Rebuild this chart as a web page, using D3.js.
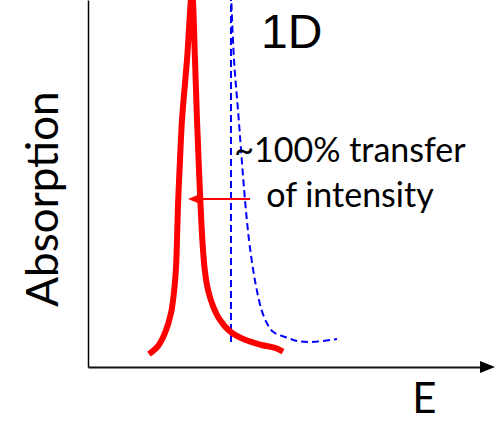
<!DOCTYPE html>
<html lang="en">
<head>
	<meta charset="utf-8">
	<title>1D absorption</title>
	<style>
		body { margin: 0; background: #fff; }
		svg { display: block; }
	</style>
</head>
<body>

<script src="https://cdn.jsdelivr.net/npm/d3@7"></script>
<script>
	// energy (E) and absorption, both on a 0-100 scale
	var redE = [15.25, 17.5, 19.25, 20.75, 21.5, 22, 22.25, 22.5, 23, 23.5, 24.75, 26,
		26.75, 27.25, 27.75, 28.25, 28.75, 29.25, 30, 31.25, 33, 35.5, 39.25, 43.4, 46.75, 48.75];
	var redA = [3.5, 5.7, 9.3, 14.7, 20.4, 27, 34.6, 44.1, 56.4, 67.3, 83.7, 102,
		83.7, 67.3, 53.7, 41.4, 31.9, 25.9, 21, 16.6, 12.8, 9.7, 7.4, 6, 5.2, 4.2];

	var blueE = [35.75, 36.5, 37.5, 39.25, 40.25, 41.3, 42.2, 43.4, 44.7, 46.25, 50, 52.25, 55.5, 62.25];
	var blueA = [102, 83.7, 70, 45.5, 34.6, 26.4, 21, 15.5, 12, 9.6, 7.9, 7.1, 6.8, 7.6];

	var edgeE = [35.75, 35.75];
	var edgeA = [6.8, 102];

	var arrowE = [40.5, 25];
	var arrowA = 45.8;

	var w = 501;
	var h = 424;

	var svg = d3.select("body").append("svg").attr("width", w).attr("height", h);

	var x = d3.scaleLinear().domain([0, 100]).range([88, 488]);
	var y = d3.scaleLinear().domain([0, 100]).range([367, 0]);

	var line = d3.line()
		.x(function(d){ return x(d[0]); })
		.y(function(d){ return y(d[1]); });

	var smooth = d3.line()
		.x(function(d){ return x(d[0]); })
		.y(function(d){ return y(d[1]); })
		.curve(d3.curveCatmullRom.alpha(0.5));

	// axes, no ticks
	svg.append("g")
		.attr("transform", "translate(0," + y(0) + ")")
		.call(d3.axisBottom(x).tickValues([]).tickSizeOuter(0))
		.select(".domain").attr("stroke", "#111").attr("stroke-width", 2);

	svg.append("g")
		.attr("transform", "translate(" + x(0) + ",0)")
		.call(d3.axisLeft(y).tickValues([]).tickSizeOuter(0))
		.select(".domain").attr("stroke", "#000").attr("stroke-width", 1.5);

	// arrow on E axis
	var ax = x(100), ay = y(0);
	svg.append("path")
		.attr("d", "M" + (ax - 8) + "," + (ay - 6) + "L" + (ax + 7) + "," + ay + "L" + (ax - 8) + "," + (ay + 6) + "Z")
		.attr("fill", "#000");

	// blue dashed: vertical edge + tail
	svg.append("path")
		.datum(d3.zip(edgeE, edgeA))
		.attr("d", line)
		.attr("fill", "none")
		.attr("stroke", "#0000ff")
		.attr("stroke-width", 2)
		.attr("stroke-dasharray", "7,4");

	svg.append("path")
		.datum(d3.zip(blueE, blueA))
		.attr("d", smooth)
		.attr("fill", "none")
		.attr("stroke", "#0000ff")
		.attr("stroke-width", 2)
		.attr("stroke-dasharray", "7,4");

	// red peak
	svg.append("path")
		.datum(d3.zip(redE, redA))
		.attr("d", smooth)
		.attr("fill", "none")
		.attr("stroke", "#ff0000")
		.attr("stroke-width", 6)
		.attr("stroke-linejoin", "round");

	// red arrow
	var ay2 = y(arrowA);
	svg.append("line")
		.attr("x1", x(arrowE[0])).attr("y1", ay2)
		.attr("x2", x(arrowE[1]) + 8).attr("y2", ay2)
		.attr("stroke", "#ff0000")
		.attr("stroke-width", 2);
	var tx = x(arrowE[1]);
	svg.append("path")
		.attr("d", "M" + tx + "," + ay2 + "L" + (tx + 11) + "," + (ay2 - 4.5) + "L" + (tx + 9) + "," + ay2 + "L" + (tx + 11) + "," + (ay2 + 4.5) + "Z")
		.attr("fill", "#ff0000");

	// texts
	svg.append("text")
		.attr("x", 261).attr("y", 48)
		.attr("font-family", "Liberation Sans, Arial, sans-serif")
		.attr("font-size", 48)
		.attr("fill", "#000")
		.text("1D");

	svg.append("text")
		.attr("x", 350).attr("y", 162)
		.attr("text-anchor", "middle")
		.attr("font-family", "Lato, sans-serif")
		.attr("font-size", 34)
		.text("~100% transfer");

	svg.append("text")
		.attr("x", 350).attr("y", 207)
		.attr("text-anchor", "middle")
		.attr("font-family", "Lato, sans-serif")
		.attr("font-size", 34)
		.text("of intensity");

	svg.append("text")
		.attr("transform", "translate(58,199) rotate(-90)")
		.attr("text-anchor", "middle")
		.attr("font-family", "Lato, sans-serif")
		.attr("font-size", 44)
		.text("Absorption");

	svg.append("text")
		.attr("x", 424.5).attr("y", 413)
		.attr("text-anchor", "middle")
		.attr("font-family", "Lato, sans-serif")
		.attr("font-size", 42)
		.text("E");
</script>
</body>
</html>
